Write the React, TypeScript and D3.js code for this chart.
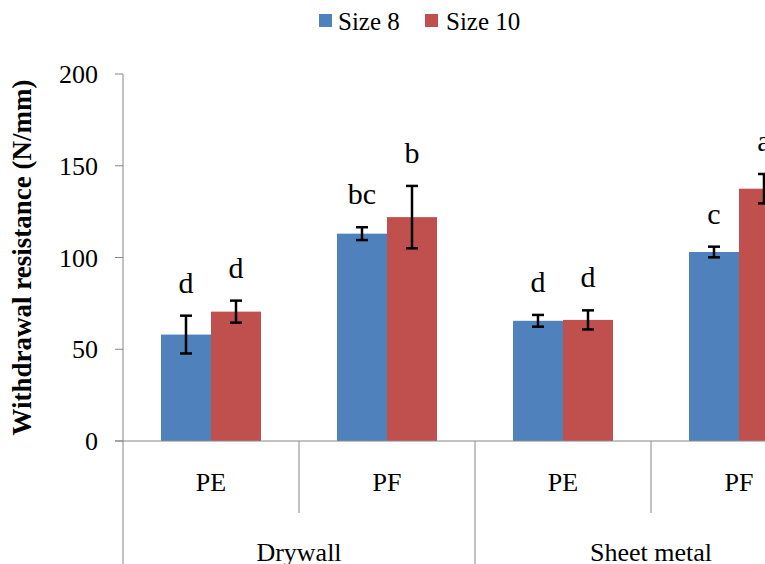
import React from "react";
import * as d3 from "d3";

const surfaces = ["Drywall", "Sheet metal"];
const coatings = ["PE", "PF"];
const series = ["Size 8", "Size 10"];
const colors = ["#4F81BD", "#C0504D"];

// one entry per surface/coating pair, in order
const size8 = [58, 113, 65.5, 103];
const size8Err = [10.3, 3.5, 3.2, 2.9];
const size10 = [70.5, 122, 66, 137.5];
const size10Err = [6, 17, 5.2, 8];
const size8Letters = ["d", "bc", "d", "c"];
const size10Letters = ["d", "b", "d", "a"];
const yTicks = [0, 50, 100, 150, 200];

const W = 765;
const H = 564;
const margin = { left: 123, top: 74, bottom: 123 };
const groupW = 176;
const font = '"Liberation Serif", "DejaVu Serif", serif';

const App = () => {
  const cats = surfaces.flatMap((s) => coatings.map((c) => `${s}|${c}`));
  const plotBottom = H - margin.bottom;

  const x = d3
    .scaleBand<string>()
    .domain(cats)
    .range([margin.left, margin.left + groupW * cats.length])
    .padding(0);
  const xs = d3
    .scaleBand<string>()
    .domain(series)
    .range([0, x.bandwidth()])
    .paddingInner(0)
    .paddingOuter(0.76);
  const y = d3.scaleLinear().domain([0, 200]).range([plotBottom, margin.top]);

  const values = [size8, size10];
  const errs = [size8Err, size10Err];
  const letters = [size8Letters, size10Letters];
  const axisColor = "#868686";
  const right = margin.left + groupW * cats.length;

  return (
    <svg
      width={W}
      height={H}
      style={{ position: "absolute", left: 0, top: 0, background: "#fff", fontFamily: font }}
    >
      {/* legend */}
      <g>
        <rect x={319} y={14} width={13} height={13} fill={colors[0]} />
        <text x={338} y={30} fontSize={25}>
          {series[0]}
        </text>
        <rect x={425} y={14} width={13} height={13} fill={colors[1]} />
        <text x={446} y={30} fontSize={25}>
          {series[1]}
        </text>
      </g>

      {/* y title */}
      <text
        transform={`translate(31,${(margin.top + plotBottom) / 2}) rotate(-90)`}
        textAnchor="middle"
        fontSize={27}
        fontWeight="bold"
      >
        Withdrawal resistance (N/mm)
      </text>

      {/* y axis */}
      <line x1={margin.left} x2={margin.left} y1={margin.top} y2={H} stroke={axisColor} />
      {yTicks.map((t) => (
        <g key={t}>
          <line x1={margin.left - 8} x2={margin.left} y1={y(t)} y2={y(t)} stroke={axisColor} />
          <text x={98} y={y(t)} dy="0.35em" textAnchor="end" fontSize={26}>
            {t}
          </text>
        </g>
      ))}

      {/* bars */}
      {series.map((s, si) => (
        <g key={s}>
          {cats.map((c, ci) => {
            const v = values[si][ci];
            const e = errs[si][ci];
            const bx = (x(c) ?? 0) + (xs(s) ?? 0);
            const cx = bx + xs.bandwidth() / 2;
            return (
              <g key={c}>
                <rect
                  x={bx}
                  y={y(v)}
                  width={xs.bandwidth()}
                  height={plotBottom - y(v)}
                  fill={colors[si]}
                />
                <g stroke="#000" strokeWidth={2.5}>
                  <line x1={cx} x2={cx} y1={y(v + e)} y2={y(v - e)} />
                  <line x1={cx - 6} x2={cx + 6} y1={y(v + e)} y2={y(v + e)} />
                  <line x1={cx - 6} x2={cx + 6} y1={y(v - e)} y2={y(v - e)} />
                </g>
                <text x={cx} y={y(v + e) - 23} textAnchor="middle" fontSize={30}>
                  {letters[si][ci]}
                </text>
              </g>
            );
          })}
        </g>
      ))}

      {/* x axis */}
      <line x1={margin.left - 8} x2={right} y1={plotBottom} y2={plotBottom} stroke={axisColor} />
      {cats.map((c, ci) => {
        const edge = (x(c) ?? 0) + x.bandwidth();
        const isGroupEnd = (ci + 1) % coatings.length === 0;
        return (
          <g key={c}>
            <line
              x1={edge}
              x2={edge}
              y1={plotBottom}
              y2={isGroupEnd ? H : plotBottom + 72}
              stroke={axisColor}
            />
            <text
              x={(x(c) ?? 0) + x.bandwidth() / 2}
              y={491}
              textAnchor="middle"
              fontSize={26}
            >
              {c.split("|")[1]}
            </text>
          </g>
        );
      })}
      {surfaces.map((s) => {
        const x0 = x(`${s}|${coatings[0]}`) ?? 0;
        const x1 = (x(`${s}|${coatings[coatings.length - 1]}`) ?? 0) + x.bandwidth();
        return (
          <text key={s} x={(x0 + x1) / 2} y={561} textAnchor="middle" fontSize={26}>
            {s}
          </text>
        );
      })}
    </svg>
  );
};

export default App;
